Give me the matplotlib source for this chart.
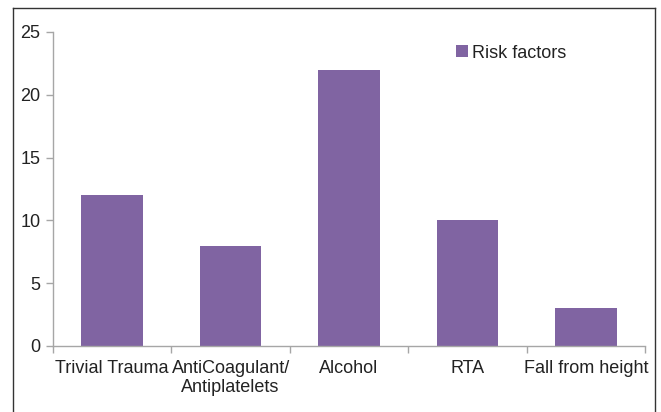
import matplotlib
matplotlib.use("Agg")
import matplotlib.pyplot as plt
from matplotlib.lines import Line2D
from matplotlib.patches import Patch

categories = ["Trivial Trauma", "AntiCoagulant/\nAntiplatelets", "Alcohol", "RTA", "Fall from height"]
values = [12, 8, 22, 10, 3]
series_name = "Risk factors"
yticks = [0, 5, 10, 15, 20, 25]

plt.rcParams['font.family'] = ['Liberation Sans', 'DejaVu Sans']

W, H = 661, 412
fig = plt.figure(figsize=(W / 100, H / 100), dpi=100)
ax = fig.add_axes([53 / W, 1 - 346 / H, (645 - 53) / W, (346 - 32) / H])

color = "#8064A2"
fs = 13
x = list(range(len(categories)))
ax.bar(x, values, width=0.52, color=color, zorder=2)
ax.set_xlim(-0.5, len(categories) - 0.5)
ax.set_ylim(0, 25)
ax.set_yticks(yticks)
ax.set_yticklabels([str(t) for t in yticks], fontsize=fs, color="#222222")

# category labels
ax.set_xticks(x)
ax.set_xticklabels(categories, fontsize=fs, color="#222222", linespacing=1.2)
ax.tick_params(axis='x', length=0, pad=10)
# boundary ticks
ax.set_xticks([i - 0.5 for i in range(len(categories) + 1)], minor=True)
ax.tick_params(axis='x', which='minor', length=5, color="#a6a6a6", width=1, direction='out')
ax.tick_params(axis='y', length=5, color="#a6a6a6", width=1, direction='out', pad=4)

for s in ["top", "right"]:
    ax.spines[s].set_visible(False)
for s in ["left", "bottom"]:
    ax.spines[s].set_color("#a6a6a6")
    ax.spines[s].set_linewidth(1)

handle = Patch(facecolor=color, edgecolor='none')
leg = fig.legend([handle], [series_name], loc='center left',
                 bbox_to_anchor=(456 / W, 1 - 53 / H), frameon=False,
                 fontsize=fs, handlelength=0.65, handleheight=0.65,
                 handletextpad=0.25, borderaxespad=0, borderpad=0)
for t in leg.get_texts():
    t.set_color("#222222")

# outer frame (left, top, right)
fc = "#333333"
fig.add_artist(Line2D([13 / W, 13 / W], [0, 1 - 8 / H], color=fc, lw=1, transform=fig.transFigure))
fig.add_artist(Line2D([13 / W, 655 / W], [1 - 8 / H, 1 - 8 / H], color=fc, lw=1, transform=fig.transFigure))
fig.add_artist(Line2D([655 / W, 655 / W], [0, 1 - 8 / H], color=fc, lw=1, transform=fig.transFigure))

fig.savefig("out.png", dpi=100)
